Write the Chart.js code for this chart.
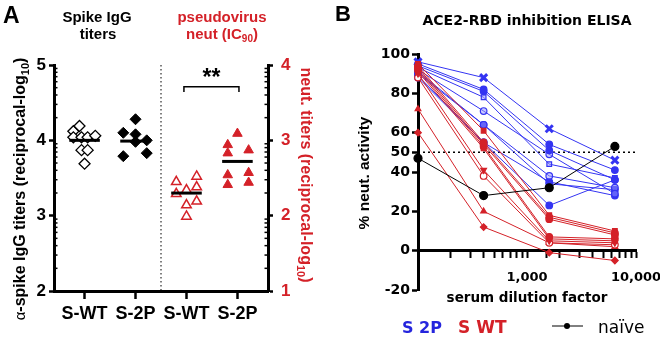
<!DOCTYPE html>
<html>
<head>
<meta charset="utf-8">
<script src="https://cdn.jsdelivr.net/npm/chart.js@4.4.1/dist/chart.umd.min.js"></script>
<style>
  body { margin: 0; background: #fff; }
  #wrap { position: relative; width: 660px; height: 338px; }
  canvas { position: absolute; top: 0; }
</style>
</head>
<body>
<div id="wrap">
  <canvas id="panelA" width="330" height="338" style="left:0"></canvas>
  <canvas id="panelB" width="330" height="338" style="left:330px"></canvas>
</div>
<script>
// ---- panel A data (log10 titers, x = group + jitter) ----
const groupNames = ['S-WT', 'S-2P', 'S-WT', 'S-2P'];
const igWtJitter = [-0.22, -0.10, -0.22, -0.06, 0.06, 0.21, -0.06, 0.06, 0];
const igWtTiters = [4.12, 4.19, 4.04, 4.04, 4.04, 4.06, 3.87, 3.87, 3.69];
const ig2pJitter = [0, -0.24, 0, 0.22, 0, -0.24, 0.22];
const ig2pTiters = [4.28, 4.10, 4.08, 4.00, 3.98, 3.79, 3.83];
const neutWtJitter = [-0.2, 0.0, 0.2, 0.2, -0.2, 0.0, 0.2, 0.0];
const neutWtTiters = [2.45, 2.34, 2.52, 2.38, 2.29, 2.14, 2.19, 1.99];
const neut2pJitter = [0, -0.19, -0.19, 0.22, -0.19, 0.22, -0.19, 0.22];
const neut2pTiters = [3.09, 2.94, 2.83, 2.87, 2.54, 2.57, 2.41, 2.44];
const groupMeans = [4.0, 3.99, 2.30, 2.72];
const dividerAt = 2.5;
const bracket = { from: 2.95, to: 4.03, at: 3.71 };

// ---- panel B data (% neut. activity by serum dilution) ----
const dilutions = [100, 400, 1600, 6400];
const s2pCurves = [
  [96, 88, 62, 46],
  [95, 82, 54, 41],
  [94, 81, 51, 36],
  [93, 78, 44, 37],
  [92, 71, 49, 29],
  [91, 64, 38, 32],
  [90, 64, 34, 31],
  [89, 55, 35, 28],
  [88, 55, 23, 36]
];
const swtCurves = [
  [95, 61, 18, 10],
  [94, 55, 17, 9],
  [93, 54, 16, 8],
  [92, 53, 7, 6],
  [91, 52, 6, 5],
  [90, 41, 5, 4],
  [88, 38, 4, 3],
  [72, 20, 4, 2],
  [60, 12, -1, -5]
];
const naiveCurve = [47, 28, 32, 53];
const yTicksB = [-20, 0, 20, 40, 50, 60, 80, 100];
const xTickLabelsB = { 1000: '1,000', 10000: '10,000' };

// marker styles per animal
const s2pMarkers = ['crossRot', 'circle', 'circle', 'rect', 'circle', 'circle', 'circle', 'circle', 'circle'];
const s2pOpen = [false, false, false, true, true, true, false, false, false];
const swtMarkers = ['rect', 'circle', 'circle', 'circle', 'rect', 'triangle', 'circle', 'triangle', 'rectRot'];
const swtOpen = [false, false, false, false, false, false, true, false, false];
const swtRotation = [0, 0, 0, 0, 0, 180, 0, 0, 0];

const ARIAL = '"Liberation Sans", Arial, sans-serif';
const DEJAVU = '"DejaVu Sans", sans-serif';
const RED = '#d42128';
const BLUE = '#3434f2';

// texte com subscrito
function drawParts(ctx, parts, x, y, align, color) {
  let total = 0;
  for (const p of parts) { ctx.font = p.font; p.w = ctx.measureText(p.t).width; total += p.w; }
  let cx = align === 'center' ? x - total / 2 : x;
  ctx.textAlign = 'left';
  ctx.textBaseline = 'alphabetic';
  for (const p of parts) {
    ctx.font = p.font;
    ctx.fillStyle = p.color || color;
    ctx.fillText(p.t, cx, y + (p.dy || 0));
    cx += p.w;
  }
}
function drawRotated(ctx, x, y, angle, parts, color) {
  ctx.save();
  ctx.translate(x, y);
  ctx.rotate(angle);
  drawParts(ctx, parts, 0, 0, 'center', color);
  ctx.restore();
}

// ---------------- Panel A ----------------
const panelADecor = {
  id: 'panelADecor',
  afterDraw(chart) {
    const { ctx, chartArea: area, scales: { x, y, y2 } } = chart;
    ctx.save();
    ctx.strokeStyle = '#000';
    // minor log ticks on both axes
    ctx.lineWidth = 1.5;
    for (let k = 0; k < 3; k++) {
      for (let m = 2; m < 10; m++) {
        const py = y.getPixelForValue(2 + k + Math.log10(m));
        ctx.beginPath(); ctx.moveTo(area.left, py); ctx.lineTo(area.left + 3.5, py); ctx.stroke();
        const py2 = y2.getPixelForValue(1 + k + Math.log10(m));
        ctx.beginPath(); ctx.moveTo(area.right - 3.5, py2); ctx.lineTo(area.right, py2); ctx.stroke();
      }
    }
    // dotted divider
    ctx.lineWidth = 1;
    ctx.setLineDash([1.5, 2.5]);
    const xd = x.getPixelForValue(dividerAt);
    ctx.beginPath(); ctx.moveTo(xd, area.top); ctx.lineTo(xd, area.bottom); ctx.stroke();
    ctx.setLineDash([]);
    // significance bracket
    const bx1 = x.getPixelForValue(bracket.from), bx2 = x.getPixelForValue(bracket.to);
    const by = y2.getPixelForValue(bracket.at), byDrop = y2.getPixelForValue(bracket.at - 0.07);
    ctx.lineWidth = 1.5;
    ctx.beginPath(); ctx.moveTo(bx1, byDrop); ctx.lineTo(bx1, by); ctx.lineTo(bx2, by); ctx.lineTo(bx2, byDrop); ctx.stroke();
    ctx.fillStyle = '#000';
    ctx.textAlign = 'center';
    ctx.textBaseline = 'alphabetic';
    ctx.font = `bold 23px ${ARIAL}`;
    ctx.fillText('**', (bx1 + bx2) / 2, by - 2);

    // panel letter and headers
    drawParts(ctx, [{ t: 'A', font: `bold 23px ${ARIAL}` }], 3, 23, 'left', '#000');
    drawParts(ctx, [{ t: 'Spike IgG', font: `bold 15px ${ARIAL}` }], 97, 22, 'center', '#000');
    drawParts(ctx, [{ t: 'titers', font: `bold 15px ${ARIAL}` }], 98, 39, 'center', '#000');
    drawParts(ctx, [{ t: 'pseudovirus', font: `bold 15px ${ARIAL}` }], 222, 22, 'center', RED);
    drawParts(ctx, [
      { t: 'neut (IC', font: `bold 15px ${ARIAL}` },
      { t: '90', font: `bold 10px ${ARIAL}`, dy: 3 },
      { t: ')', font: `bold 15px ${ARIAL}` }
    ], 222, 39, 'center', RED);

    // axis titles
    drawRotated(ctx, 25, 189, -Math.PI / 2, [
      { t: 'α', font: `15px ${ARIAL}` },
      { t: '-spike IgG titers (reciprocal-log', font: `bold 16px ${ARIAL}` },
      { t: '10', font: `bold 11px ${ARIAL}`, dy: 4 },
      { t: ')', font: `bold 16px ${ARIAL}` }
    ], '#000');
    drawRotated(ctx, 301, 175, Math.PI / 2, [
      { t: 'neut. titers (reciprocal-log', font: `bold 16px ${ARIAL}` },
      { t: '10', font: `bold 11px ${ARIAL}`, dy: 4 },
      { t: ')', font: `bold 16px ${ARIAL}` }
    ], RED);
    ctx.restore();
  }
};

const toPoints = (group, jitter, vals) => vals.map((v, i) => ({ x: group + jitter[i], y: v }));
const meanLine = (group, axis) => ({
  type: 'line',
  data: [{ x: group - 0.3, y: groupMeans[group - 1] }, { x: group + 0.3, y: groupMeans[group - 1] }],
  yAxisID: axis,
  borderColor: '#000',
  borderWidth: 3,
  pointRadius: 0,
  showLine: true
});

new Chart(document.getElementById('panelA').getContext('2d'), {
  type: 'scatter',
  data: {
    datasets: [
      meanLine(1, 'y'), meanLine(2, 'y'), meanLine(3, 'y2'), meanLine(4, 'y2'),
      {
        data: toPoints(1, igWtJitter, igWtTiters), yAxisID: 'y',
        pointStyle: 'rectRot', pointRadius: 5.5, pointBorderWidth: 1.3,
        pointBackgroundColor: '#fff', pointBorderColor: '#000'
      },
      {
        data: toPoints(2, ig2pJitter, ig2pTiters), yAxisID: 'y',
        pointStyle: 'rectRot', pointRadius: 5.5, pointBorderWidth: 1,
        pointBackgroundColor: '#000', pointBorderColor: '#000'
      },
      {
        data: toPoints(3, neutWtJitter, neutWtTiters), yAxisID: 'y2',
        pointStyle: 'triangle', pointRadius: 5.5, pointBorderWidth: 1.5,
        pointBackgroundColor: '#fff', pointBorderColor: RED
      },
      {
        data: toPoints(4, neut2pJitter, neut2pTiters), yAxisID: 'y2',
        pointStyle: 'triangle', pointRadius: 5.5, pointBorderWidth: 1,
        pointBackgroundColor: RED, pointBorderColor: RED
      }
    ]
  },
  options: {
    responsive: false,
    animation: false,
    devicePixelRatio: 1,
    layout: { padding: { top: 65, left: 0, right: 0, bottom: 0 } },
    plugins: { legend: { display: false }, tooltip: { enabled: false } },
    scales: {
      x: {
        type: 'linear', position: 'bottom', min: 0.4, max: 4.6,
        afterBuildTicks: s => { s.ticks = groupNames.map((n, i) => ({ value: i + 1 })); },
        afterFit: s => { s.height = 47; s.paddingLeft = 0; s.paddingRight = 0; },
        ticks: {
          autoSkip: false, maxRotation: 0, padding: 4, color: '#000',
          font: { family: ARIAL, size: 18, weight: 'bold' },
          callback: v => groupNames[Math.round(v) - 1]
        },
        grid: { drawOnChartArea: false, tickLength: 8, tickWidth: 2.5, tickColor: '#000' },
        border: { color: '#000', width: 3 }
      },
      y: {
        position: 'left', min: 2, max: 5,
        afterFit: s => { s.width = 54; s.paddingTop = 0; s.paddingBottom = 0; },
        ticks: { stepSize: 1, padding: 3, color: '#000', font: { family: ARIAL, size: 17, weight: 'bold' } },
        grid: { drawOnChartArea: false, tickLength: 5, tickWidth: 2.5, tickColor: '#000' },
        border: { color: '#000', width: 3 }
      },
      y2: {
        position: 'right', min: 1, max: 4,
        afterFit: s => { s.width = 62; s.paddingTop = 0; s.paddingBottom = 0; },
        ticks: { stepSize: 1, padding: 8, color: RED, font: { family: ARIAL, size: 17, weight: 'bold' } },
        grid: { drawOnChartArea: false, tickLength: 5, tickWidth: 2.5, tickColor: '#000' },
        border: { color: '#000', width: 3 }
      }
    }
  },
  plugins: [panelADecor]
});

// ---------------- Panel B ----------------
const panelBDecor = {
  id: 'panelBDecor',
  beforeDatasetsDraw(chart) {
    const { ctx, chartArea: area, scales: { y } } = chart;
    const py = y.getPixelForValue(50);
    ctx.save();
    ctx.strokeStyle = '#000';
    ctx.lineWidth = 1.5;
    ctx.setLineDash([2, 3]);
    ctx.beginPath(); ctx.moveTo(area.left, py); ctx.lineTo(area.right, py); ctx.stroke();
    ctx.restore();
  },
  afterDraw(chart) {
    const { ctx } = chart;
    ctx.save();
    drawParts(ctx, [{ t: 'B', font: `bold 22px ${ARIAL}` }], 5, 21, 'left', '#000');
    drawParts(ctx, [{ t: 'ACE2-RBD inhibition ELISA', font: `bold 14px ${DEJAVU}` }], 197, 25, 'center', '#000');
    drawParts(ctx, [{ t: 'serum dilution factor', font: `bold 13.5px ${DEJAVU}` }], 197, 302, 'center', '#000');
    drawRotated(ctx, 39, 173, -Math.PI / 2, [{ t: '% neut. activity', font: `bold 15.5px ${ARIAL}` }], '#000');
    // legend
    drawParts(ctx, [{ t: 'S 2P', font: `bold 16px ${DEJAVU}` }], 72, 333, 'left', '#2525dd');
    drawParts(ctx, [{ t: 'S WT', font: `bold 17px ${DEJAVU}` }], 128, 333, 'left', RED);
    ctx.strokeStyle = '#000';
    ctx.lineWidth = 1;
    ctx.beginPath(); ctx.moveTo(222, 326); ctx.lineTo(253, 326); ctx.stroke();
    ctx.fillStyle = '#000';
    ctx.beginPath(); ctx.arc(237, 326, 3, 0, Math.PI * 2); ctx.fill();
    drawParts(ctx, [{ t: 'naïve', font: `17px ${DEJAVU}` }], 268, 333, 'left', '#000');
    ctx.restore();
  }
};

const curveDataset = (vals, color, marker, open, rotation) => ({
  data: vals.map((v, i) => ({ x: dilutions[i], y: v })),
  borderColor: color,
  borderWidth: 1,
  pointStyle: marker,
  pointRotation: rotation || 0,
  pointRadius: marker === 'crossRot' ? 5 : 3.3,
  pointBorderWidth: marker === 'crossRot' ? 3 : 1.2,
  pointBorderColor: color,
  pointBackgroundColor: open ? (color === BLUE ? 'rgba(150,150,255,0.5)' : '#fff') : color,
  tension: 0,
  clip: false
});

const datasetsB = [
  { ...curveDataset(naiveCurve, '#000', 'circle', false), pointRadius: 4 },
  ...swtCurves.map((c, i) => curveDataset(c, RED, swtMarkers[i], swtOpen[i], swtRotation[i])),
  ...s2pCurves.map((c, i) => curveDataset(c, BLUE, s2pMarkers[i], s2pOpen[i], 0))
];

new Chart(document.getElementById('panelB').getContext('2d'), {
  type: 'line',
  data: { datasets: datasetsB },
  options: {
    responsive: false,
    animation: false,
    devicePixelRatio: 1,
    layout: { padding: { top: 54, left: 28, right: 24, bottom: 48 } },
    plugins: { legend: { display: false }, tooltip: { enabled: false } },
    scales: {
      x: {
        type: 'logarithmic', min: 100, max: 10000, position: { y: 0 },
        afterFit: s => { s.paddingLeft = 0; s.paddingRight = 0; },
        ticks: {
          autoSkip: false, maxRotation: 0, padding: 13, color: '#000',
          font: { family: DEJAVU, size: 13, weight: 'bold' },
          callback: v => xTickLabelsB[Math.round(v)] || ''
        },
        grid: { drawOnChartArea: false, tickLength: 6, tickWidth: 2, tickColor: '#000' },
        border: { color: '#000', width: 3 }
      },
      y: {
        min: -20, max: 100,
        afterBuildTicks: s => { s.ticks = yTicksB.map(v => ({ value: v })); },
        afterFit: s => { s.width = 60; s.paddingTop = 0; s.paddingBottom = 0; },
        ticks: { padding: 2, color: '#000', font: { family: DEJAVU, size: 14, weight: 'bold' } },
        grid: { drawOnChartArea: false, tickLength: 6, tickWidth: 2.5, tickColor: '#000' },
        border: { color: '#000', width: 3 }
      }
    }
  },
  plugins: [panelBDecor]
});
</script>
</body>
</html>
